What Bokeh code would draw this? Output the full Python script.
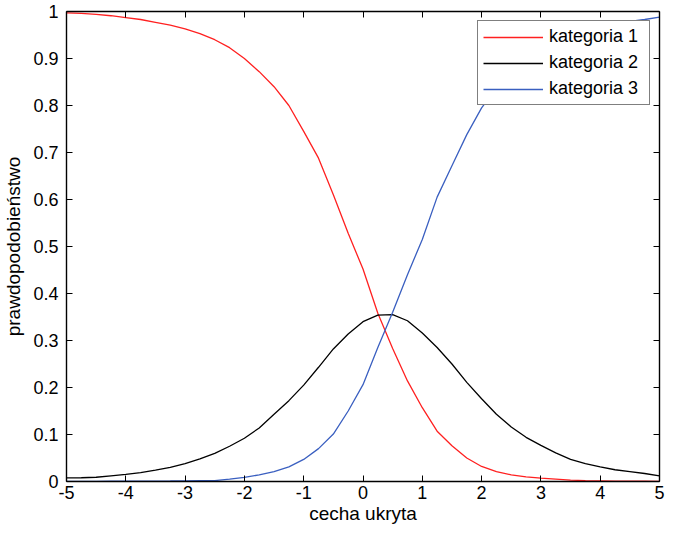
from bokeh.plotting import figure
from bokeh.models import LinearAxis, FixedTicker, Legend, LegendItem, Range1d
from bokeh.embed import file_html
from bokeh.resources import INLINE

# ---- data ----
x_vals = [-5.0, -4.75, -4.5, -4.25, -4.0, -3.75, -3.5, -3.25, -3.0, -2.75, -2.5,
          -2.25, -2.0, -1.75, -1.5, -1.25, -1.0, -0.75, -0.5, -0.25, 0.0, 0.25,
          0.5, 0.75, 1.0, 1.25, 1.5, 1.75, 2.0, 2.25, 2.5, 2.75, 3.0, 3.25, 3.5,
          3.75, 4.0, 4.25, 4.5, 4.75, 5.0]

kategoria_1 = [0.997, 0.996, 0.994, 0.991, 0.987, 0.983, 0.977, 0.971, 0.963, 0.953,
               0.940, 0.923, 0.900, 0.872, 0.840, 0.800, 0.745, 0.688, 0.610, 0.528,
               0.452, 0.358, 0.283, 0.214, 0.157, 0.107, 0.076, 0.050, 0.032, 0.021,
               0.014, 0.010, 0.007, 0.005, 0.003, 0.002, 0.0015, 0.001, 0.0007, 0.0005,
               0.0003]

kategoria_2 = [0.0075, 0.008, 0.009, 0.012, 0.015, 0.019, 0.024, 0.030, 0.038, 0.048,
               0.060, 0.075, 0.092, 0.114, 0.143, 0.172, 0.205, 0.243, 0.282, 0.314,
               0.340, 0.354, 0.355, 0.342, 0.316, 0.285, 0.250, 0.211, 0.176, 0.143,
               0.116, 0.094, 0.077, 0.061, 0.047, 0.038, 0.031, 0.025, 0.021, 0.017,
               0.012]

kategoria_3 = [0.0003, 0.0003, 0.0004, 0.0005, 0.0006, 0.0008, 0.001, 0.0012, 0.0015, 0.0018,
               0.002, 0.005, 0.009, 0.014, 0.021, 0.031, 0.047, 0.070, 0.101, 0.150,
               0.206, 0.285, 0.360, 0.440, 0.515, 0.605, 0.672, 0.738, 0.795, 0.837,
               0.870, 0.897, 0.917, 0.934, 0.950, 0.960, 0.968, 0.975, 0.979, 0.983,
               0.988]

series_names = ["kategoria 1", "kategoria 2", "kategoria 3"]
series_colors = ["#ff2020", "#000000", "#3a5fc0"]

x_ticks = [-5, -4, -3, -2, -1, 0, 1, 2, 3, 4, 5]
x_tick_labels = ["-5", "-4", "-3", "-2", "-1", "0", "1", "2", "3", "4", "5"]
y_ticks = [0, 0.1, 0.2, 0.3, 0.4, 0.5, 0.6, 0.7, 0.8, 0.9, 1]
y_tick_labels = ["0", "0.1", "0.2", "0.3", "0.4", "0.5", "0.6", "0.7", "0.8", "0.9", "1"]

x_label = "cecha ukryta"
y_label = "prawdopodobieństwo"

FONT = "Liberation Sans"

p = figure(width=665, height=528, x_range=Range1d(-5, 5), y_range=Range1d(0, 1),
           output_backend="svg", toolbar_location=None,
           min_border_left=66, min_border_right=6, min_border_top=11, min_border_bottom=47)
p.xgrid.visible = False
p.ygrid.visible = False
p.outline_line_color = None
p.background_fill_color = "white"
p.border_fill_color = "white"

renderers = []
for ys, col in zip([kategoria_1, kategoria_2, kategoria_3], series_colors):
    r = p.line(x_vals, ys, line_color=col, line_width=1.3)
    renderers.append(r)


def style_axis(ax, ticks, overrides, show_labels=True):
    ax.ticker = FixedTicker(ticks=ticks)
    ax.major_label_overrides = overrides
    ax.axis_line_color = "black"
    ax.axis_line_width = 1.4
    ax.major_tick_line_color = "black"
    ax.major_tick_line_width = 1
    ax.major_tick_in = 6
    ax.major_tick_out = 0
    ax.minor_tick_in = 0
    ax.minor_tick_out = 0
    ax.major_label_text_font = FONT
    ax.major_label_text_font_size = "18px"
    ax.major_label_text_color = "black"
    if not show_labels:
        ax.major_label_standoff = 0


xo = {t: l for t, l in zip(x_ticks, x_tick_labels)}
yo = {t: l for t, l in zip(y_ticks, y_tick_labels)}

bx = p.xaxis[0]
style_axis(bx, x_ticks, xo)
bx.major_label_standoff = 4
bx.axis_label = x_label
bx.axis_label_text_font = FONT
bx.axis_label_text_font_size = "19px"
bx.axis_label_text_font_style = "normal"
bx.axis_label_text_color = "black"
bx.axis_label_standoff = 1

ly = p.yaxis[0]
style_axis(ly, y_ticks, yo)
ly.major_label_standoff = 8
ly.axis_label = y_label
ly.axis_label_text_font = FONT
ly.axis_label_text_font_size = "19px"
ly.axis_label_text_font_style = "normal"
ly.axis_label_text_color = "black"
ly.axis_label_standoff = 6

top = LinearAxis()
style_axis(top, x_ticks, {t: "" for t in x_ticks}, show_labels=False)
p.add_layout(top, "above")

right = LinearAxis()
style_axis(right, y_ticks, {t: "" for t in y_ticks}, show_labels=False)
p.add_layout(right, "right")

items = [LegendItem(label=n, renderers=[r]) for n, r in zip(series_names, renderers)]
legend = Legend(items=items, location="top_right")
legend.label_text_font = FONT
legend.label_text_font_size = "18px"
legend.label_text_color = "black"
legend.padding = 5
legend.spacing = 5
legend.glyph_width = 60
legend.glyph_height = 20
legend.label_height = 20
legend.label_width = 95
legend.label_standoff = 6
legend.margin = 9
legend.border_line_color = "black"
legend.border_line_width = 1.4
legend.background_fill_color = "white"
legend.background_fill_alpha = 1.0
p.add_layout(legend, "center")

open("out.html", "w").write(file_html(p, INLINE))
